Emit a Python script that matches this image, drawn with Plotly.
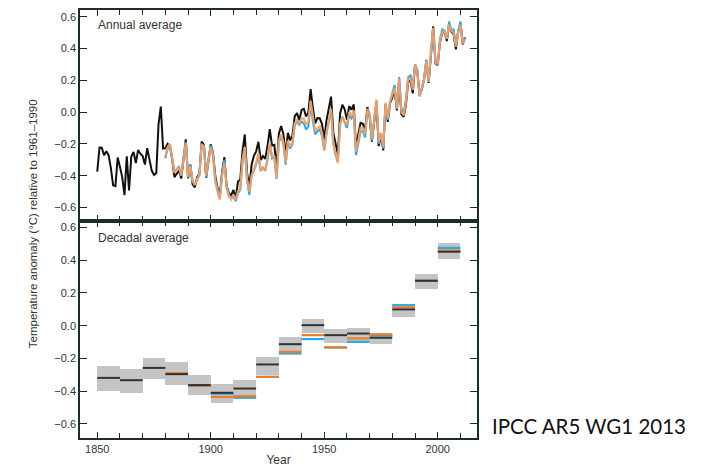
import plotly.graph_objects as go

# ---------------- data ----------------
years_had = list(range(1850, 2013))
hadcrut = [-0.375, -0.223, -0.224, -0.271, -0.246, -0.271, -0.352, -0.461, -0.466, -0.286,
           -0.346, -0.409, -0.522, -0.278, -0.493, -0.279, -0.251, -0.321, -0.238, -0.262,
           -0.276, -0.330, -0.227, -0.304, -0.368, -0.395, -0.384, -0.075, 0.035, -0.230,
           -0.227, -0.200, -0.213, -0.296, -0.409, -0.389, -0.367, -0.418, -0.307, -0.171,
           -0.416, -0.330, -0.455, -0.473, -0.410, -0.390, -0.186, -0.206, -0.412, -0.289,
           -0.203, -0.259, -0.402, -0.479, -0.520, -0.377, -0.283, -0.465, -0.511, -0.522,
           -0.490, -0.544, -0.437, -0.424, -0.244, -0.141, -0.383, -0.468, -0.333, -0.275,
           -0.247, -0.187, -0.302, -0.276, -0.294, -0.215, -0.108, -0.210, -0.206, -0.350,
           -0.137, -0.087, -0.137, -0.273, -0.131, -0.178, -0.147, -0.026, -0.006, -0.052,
           0.014, 0.020, -0.027, -0.004, 0.144, 0.025, -0.071, -0.038, -0.039, -0.074,
           -0.173, -0.052, 0.028, 0.097, -0.129, -0.190, -0.267, -0.007, 0.046, 0.017,
           -0.049, 0.038, 0.014, 0.048, -0.223, -0.140, -0.068, -0.074, -0.113, 0.032,
           -0.027, -0.186, -0.065, 0.062, -0.214, -0.149, -0.241, 0.047, -0.062, 0.057,
           0.092, 0.140, 0.011, 0.194, -0.014, -0.030, 0.045, 0.192, 0.198, 0.118,
           0.296, 0.254, 0.105, 0.148, 0.208, 0.325, 0.183, 0.390, 0.539, 0.306,
           0.294, 0.441, 0.496, 0.505, 0.447, 0.545, 0.506, 0.491, 0.395, 0.506,
           0.560, 0.425, 0.470]

years_other = list(range(1880, 2013))
noaa = [-0.28, -0.22, -0.20, -0.30, -0.38, -0.36, -0.35, -0.40, -0.29, -0.19,
        -0.41, -0.34, -0.43, -0.46, -0.42, -0.40, -0.20, -0.22, -0.40, -0.30,
        -0.22, -0.28, -0.44, -0.50, -0.55, -0.40, -0.32, -0.48, -0.53, -0.55,
        -0.52, -0.55, -0.50, -0.48, -0.30, -0.22, -0.42, -0.50, -0.40, -0.36,
        -0.32, -0.26, -0.37, -0.35, -0.37, -0.29, -0.19, -0.28, -0.28, -0.42,
        -0.18, -0.14, -0.19, -0.32, -0.18, -0.22, -0.19, -0.07, -0.05, -0.07,
        -0.04, -0.04, -0.08, -0.06, 0.07, -0.03, -0.12, -0.10, -0.09, -0.13,
        -0.24, -0.13, -0.05, 0.02, -0.20, -0.26, -0.32, -0.08, -0.03, -0.06,
        -0.08, 0.00, -0.02, 0.01, -0.25, -0.18, -0.10, -0.10, -0.14, 0.02,
        -0.01, -0.17, -0.04, 0.08, -0.19, -0.13, -0.22, 0.06, -0.04, 0.07,
        0.11, 0.15, 0.02, 0.21, 0.00, -0.02, 0.06, 0.21, 0.21, 0.14,
        0.30, 0.25, 0.10, 0.15, 0.21, 0.32, 0.19, 0.39, 0.53, 0.31,
        0.30, 0.45, 0.50, 0.51, 0.46, 0.55, 0.51, 0.50, 0.41, 0.50,
        0.55, 0.43, 0.46]
giss = [-0.29, -0.23, -0.21, -0.30, -0.37, -0.36, -0.34, -0.40, -0.28, -0.20,
        -0.40, -0.33, -0.44, -0.45, -0.43, -0.39, -0.21, -0.21, -0.41, -0.29,
        -0.21, -0.26, -0.42, -0.49, -0.54, -0.39, -0.30, -0.47, -0.52, -0.54,
        -0.53, -0.56, -0.51, -0.49, -0.31, -0.23, -0.43, -0.52, -0.40, -0.37,
        -0.33, -0.27, -0.37, -0.35, -0.37, -0.30, -0.20, -0.29, -0.28, -0.42,
        -0.19, -0.15, -0.20, -0.33, -0.19, -0.23, -0.20, -0.08, -0.06, -0.08,
        -0.06, -0.07, -0.11, -0.09, 0.05, -0.06, -0.14, -0.12, -0.11, -0.15,
        -0.24, -0.13, -0.06, 0.01, -0.20, -0.27, -0.31, -0.07, -0.03, -0.06,
        -0.10, -0.02, -0.04, -0.01, -0.27, -0.20, -0.12, -0.12, -0.16, 0.00,
        -0.02, -0.18, -0.05, 0.07, -0.20, -0.14, -0.23, 0.05, -0.05, 0.06,
        0.12, 0.17, 0.03, 0.22, 0.02, 0.00, 0.08, 0.22, 0.23, 0.16,
        0.30, 0.27, 0.10, 0.14, 0.21, 0.33, 0.19, 0.38, 0.52, 0.33,
        0.31, 0.46, 0.52, 0.51, 0.46, 0.57, 0.52, 0.52, 0.43, 0.51,
        0.57, 0.44, 0.47]

decades = [1850, 1860, 1870, 1880, 1890, 1900, 1910, 1920, 1930, 1940,
           1950, 1960, 1970, 1980, 1990, 2000]
dec_had = [-0.319, -0.333, -0.258, -0.296, -0.363, -0.410, -0.384, -0.237, -0.113, 0.003,
           -0.058, -0.048, -0.074, 0.099, 0.274, 0.451]
dec_low = [-0.400, -0.410, -0.322, -0.359, -0.424, -0.471, -0.445, -0.298, -0.160, -0.044,
           -0.103, -0.099, -0.109, 0.054, 0.227, 0.405]
dec_high = [-0.245, -0.266, -0.197, -0.221, -0.302, -0.353, -0.333, -0.190, -0.068, 0.044,
            -0.017, -0.013, -0.041, 0.136, 0.319, 0.506]
decades_other = [1880, 1890, 1900, 1910, 1920, 1930, 1940, 1950, 1960, 1970, 1980, 1990, 2000]
dec_noaa = [-0.290, -0.367, -0.435, -0.431, -0.313, -0.160, -0.058, -0.133, -0.078, -0.054,
            0.111, 0.274, 0.458]
dec_giss = [-0.295, -0.365, -0.415, -0.440, -0.313, -0.170, -0.082, -0.133, -0.099, -0.060,
            0.125, 0.274, 0.475]

x_ticks = [1850, 1900, 1950, 2000]
y_ticks = [-0.6, -0.4, -0.2, 0.0, 0.2, 0.4, 0.6]
y_labels = ["\u22120.6", "\u22120.4", "\u22120.2", "0.0", "0.2", "0.4", "0.6"]

BLACK = "#111111"
ORANGE_A = "#f4a06a"
BLUE_A = "#2aa8e0"
ORANGE_D = "#f07a2a"
BLUE_D = "#29a9e1"
BOX = "#c4c4c4"
AXIS = "#1c2b2b"
TXT = "#333333"
FONT = "Liberation Sans, Arial, sans-serif"


def segments(starts, vals):
    xs, ys = [], []
    for s, v in zip(starts, vals):
        xs += [s, s + 10, None]
        ys += [v, v, None]
    return xs, ys


fig = go.Figure()

# annual panel
fig.add_trace(go.Scatter(x=years_had, y=hadcrut, mode="lines", line=dict(color=BLACK, width=2),
                         xaxis="x", yaxis="y", showlegend=False, hoverinfo="skip"))
fig.add_trace(go.Scatter(x=years_other, y=giss, mode="lines", line=dict(color=BLUE_A, width=2),
                         xaxis="x", yaxis="y", showlegend=False, hoverinfo="skip"))
fig.add_trace(go.Scatter(x=years_other, y=noaa, mode="lines", line=dict(color=ORANGE_A, width=2.3),
                         opacity=0.9, xaxis="x", yaxis="y", showlegend=False, hoverinfo="skip"))

# decadal panel boxes
fig.add_trace(go.Bar(x=[d + 5 for d in decades], y=[h - l for h, l in zip(dec_high, dec_low)],
                     base=dec_low, width=[10] * len(decades), marker=dict(color=BOX, line=dict(width=0)),
                     xaxis="x2", yaxis="y2", showlegend=False, hoverinfo="skip"))
gx, gy = segments(decades_other, dec_giss)
fig.add_trace(go.Scatter(x=gx, y=gy, mode="lines", line=dict(color=BLUE_D, width=2.2),
                         xaxis="x2", yaxis="y2", showlegend=False, hoverinfo="skip"))
nx, ny = segments(decades_other, dec_noaa)
fig.add_trace(go.Scatter(x=nx, y=ny, mode="lines", line=dict(color=ORANGE_D, width=2.2),
                         xaxis="x2", yaxis="y2", showlegend=False, hoverinfo="skip"))
hx, hy = segments(decades, dec_had)
fig.add_trace(go.Scatter(x=hx, y=hy, mode="lines", line=dict(color="#333333", width=2),
                         xaxis="x2", yaxis="y2", showlegend=False, hoverinfo="skip"))

xr = [1842.4, 2017.3]
common_x = dict(range=xr, showline=True, linecolor=AXIS, linewidth=1.6, mirror="allticks",
                ticks="inside", ticklen=6, tickwidth=1.3, tickcolor=AXIS, tickvals=x_ticks,
                minor=dict(dtick=10, ticks="inside", ticklen=5, tickwidth=1.2, tickcolor=AXIS),
                showgrid=False, zeroline=False, automargin=False,
                tickfont=dict(family=FONT, size=11, color=TXT))
common_y = dict(showline=True, linecolor=AXIS, linewidth=1.6, mirror="allticks",
                ticks="inside", ticklen=7, tickwidth=1.3, tickcolor=AXIS,
                tickvals=y_ticks, ticktext=y_labels, showgrid=False, zeroline=False,
                automargin=False, tickfont=dict(family=FONT, size=11, color=TXT))

# the page body adds an 8px margin, so the figure is sized to fit inside the window
fig.update_layout(
    width=696, height=459,
    margin=dict(l=72, r=227, t=2, b=29),
    paper_bgcolor="white", plot_bgcolor="white",
    bargap=0,
    xaxis=dict(**common_x, anchor="y", showticklabels=False, matches="x2"),
    yaxis=dict(**common_y, domain=[0.5074, 1.0], range=[-0.684, 0.642], anchor="x"),
    xaxis2=dict(**common_x, anchor="y2", showticklabels=True,
                title=dict(text="Year", standoff=2, font=dict(family=FONT, size=12, color=TXT))),
    yaxis2=dict(**common_y, domain=[0.0, 0.5074], range=[-0.686, 0.640], anchor="x2"),
    annotations=[
        dict(text="Annual average", xref="paper", yref="paper", x=0.04, y=0.985,
             xanchor="left", yanchor="top", showarrow=False,
             font=dict(family=FONT, size=12, color=TXT)),
        dict(text="Decadal average", xref="paper", yref="paper", x=0.04, y=0.488,
             xanchor="left", yanchor="top", showarrow=False,
             font=dict(family=FONT, size=12, color=TXT)),
        dict(text="Temperature anomaly (\u00b0C) relative to 1961\u20131990", xref="paper", yref="paper",
             x=-0.118, y=0.5, xanchor="center", yanchor="middle", textangle=-90, showarrow=False,
             font=dict(family=FONT, size=11.5, color=TXT)),
        dict(text="IPCC AR5 WG1 2013", xref="paper", yref="paper", x=1.032, y=0.027,
             xanchor="left", yanchor="middle", showarrow=False,
             font=dict(family="Lato, Noto Sans", size=20.5, color="#111111")),
    ],
)

fig.write_html("out.html")
